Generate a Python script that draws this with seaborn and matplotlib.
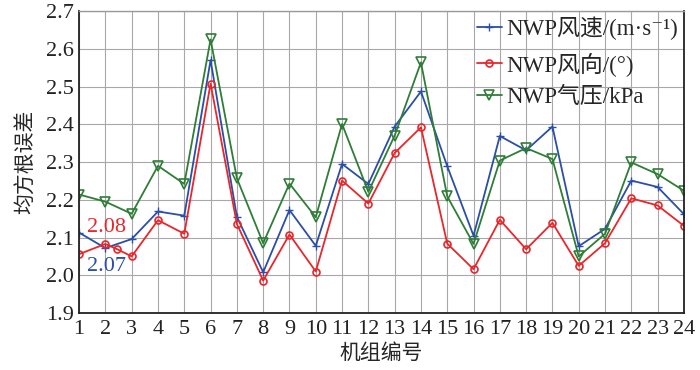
import numpy as np
import pandas as pd
import seaborn as sns
import matplotlib.pyplot as plt

# unit index
units = list(range(1, 25))

speed_rmse = [2.113, 2.072, 2.096, 2.169, 2.158, 2.570, 2.155, 2.008, 2.173, 2.078,
              2.295, 2.242, 2.394, 2.487, 2.289, 2.105, 2.369, 2.331, 2.394, 2.077,
              2.123, 2.251, 2.234, 2.162]

# the direction curve in the source has one extra point between units 2 and 3
dir_units = [1, 2, 2.45, 3, 4, 5, 6, 7, 8, 9, 10, 11, 12, 13, 14, 15, 16, 17, 18,
             19, 20, 21, 22, 23, 24]
dir_rmse = [2.056, 2.083, 2.069, 2.050, 2.146, 2.110, 2.508, 2.136, 1.986, 2.108,
            2.010, 2.251, 2.190, 2.324, 2.392, 2.084, 2.016, 2.147, 2.069, 2.139,
            2.025, 2.085, 2.204, 2.185, 2.131]

press_rmse = [2.214, 2.195, 2.163, 2.290, 2.242, 2.625, 2.257, 2.085, 2.243, 2.154,
              2.401, 2.221, 2.370, 2.564, 2.209, 2.083, 2.304, 2.337, 2.308, 2.050,
              2.110, 2.299, 2.268, 2.224]

labels = ["NWP风速/(m·s⁻¹)", "NWP风向/(°)", "NWP气压/kPa"]
colors = ["#2b4ea6", "#e8262b", "#2f7d36"]

sns.set_style("white")
plt.rcParams["font.family"] = ["Liberation Serif", "Noto Sans CJK SC", "DejaVu Serif"]

fig = plt.figure(figsize=(7, 3.7), dpi=100)
ax = fig.add_axes([0.113, 0.154, 0.864, 0.816])

sns.lineplot(x=units, y=speed_rmse, ax=ax, color=colors[0], marker="+",
             markersize=6, markeredgecolor=colors[0], markeredgewidth=1.0,
             linewidth=1.3, label=labels[0])
sns.lineplot(x=dir_units, y=dir_rmse, ax=ax, color=colors[1], marker="o",
             markersize=5, markerfacecolor="none", markeredgecolor=colors[1],
             markeredgewidth=1.2, linewidth=1.3, label=labels[1])
sns.lineplot(x=units, y=press_rmse, ax=ax, color=colors[2], marker="v",
             markersize=7, markerfacecolor="none", markeredgecolor=colors[2],
             markeredgewidth=1.2, linewidth=1.3, label=labels[2])

ax.text(1.3, 2.126, "2.08", color=colors[1], fontsize=16, va="center")
ax.text(1.3, 2.023, "2.07", color=colors[0], fontsize=16, va="center")

ax.set_xlim(1, 24)
ax.set_ylim(1.9, 2.7)
ax.set_xticks(units)
ax.set_yticks(np.round(np.arange(1.9, 2.71, 0.1), 1))
ax.yaxis.set_major_formatter(plt.FormatStrFormatter("%.1f"))
ax.grid(True, color="#a8a8a8", linewidth=0.8)
ax.tick_params(axis="both", labelsize=16, direction="in", length=4, width=1,
               colors="#222222", pad=4)
ax.tick_params(axis="x", pad=5)

for side in ["left", "bottom", "right"]:
    ax.spines[side].set_color("#222222")
    ax.spines[side].set_linewidth(1.3)
ax.spines["top"].set_color("#999999")
ax.spines["top"].set_linewidth(1.0)

ax.set_xlabel("机组编号", fontsize=15, labelpad=4)
ax.set_ylabel("均方根误差", fontsize=15, labelpad=7)

leg = ax.legend(loc="upper right", frameon=False, fontsize=16.5, handlelength=1.1,
                handletextpad=0.2, labelspacing=0.5, borderaxespad=0.05,
                borderpad=0.2)

fig.savefig("out.png", dpi=100)
